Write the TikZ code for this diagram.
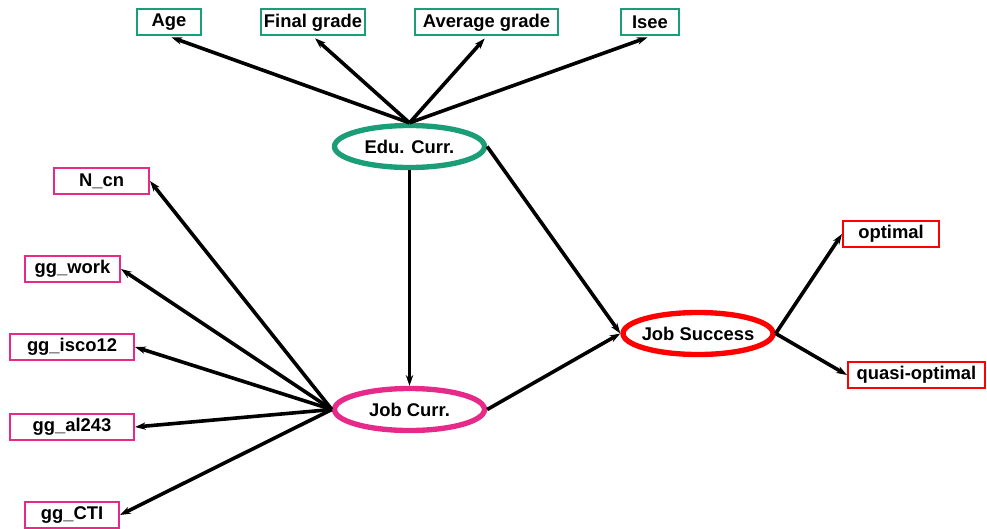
\documentclass[tikz,border=0pt]{standalone}
\usepackage{fontspec}
\setmainfont{Liberation Sans}
\usetikzlibrary{shapes.geometric,arrows.meta}
\definecolor{dgreen}{HTML}{1B9E77}
\definecolor{dpink}{HTML}{E7298A}
\definecolor{dred}{HTML}{FF0000}
\begin{document}
\begin{tikzpicture}[x=0.75pt,y=-0.75pt,
  every node/.style={font=\fontsize{13.8}{16}\selectfont\bfseries},
  latent/.style={ellipse,draw,line width=4pt,inner ysep=0pt,inner xsep=-6pt,
    minimum width=112.5pt,minimum height=31.5pt},
  obsbox/.style={rectangle,draw,line width=1.5pt,inner sep=0pt,
    minimum height=19.5pt},
  link/.style={line width=2.7pt,-{Stealth[length=8pt,width=5.5pt]}}]
\useasboundingbox (0,0) rectangle (987,528);
% latent nodes
\node[latent,draw=dgreen] (edu) at (409.5,146.5) {Edu. Curr.};
\node[latent,draw=dpink]  (job) at (409.5,409.5) {Job Curr.};
\node[latent,draw=dred]   (suc) at (698,333.5) {Job Success};
% education indicators
\node[obsbox,draw=dgreen,minimum width=48pt]     (age)  at (169,22.5) {Age};
\node[obsbox,draw=dgreen,minimum width=78pt]     (fin)  at (313,22.5) {Final grade};
\node[obsbox,draw=dgreen,minimum width=107.25pt] (avg)  at (486.5,22.5) {Average grade};
\node[obsbox,draw=dgreen,minimum width=43.5pt]   (isee) at (650,22.5) {Isee};
% job indicators
\node[obsbox,draw=dpink,minimum width=71.25pt] (ncn)   at (101.5,181) {N\_cn};
\node[obsbox,draw=dpink,minimum width=71.25pt] (work)  at (72.5,269) {gg\_work};
\node[obsbox,draw=dpink,minimum width=93pt]    (isco)  at (72,347) {gg\_isco12};
\node[obsbox,draw=dpink,minimum width=93pt]    (al)    at (72,427) {gg\_al243};
\node[obsbox,draw=dpink,minimum width=70.5pt]  (cti)   at (72,515) {gg\_CTI};
% success indicators
\node[obsbox,draw=dred,minimum width=72pt]    (opt)   at (891,234) {optimal};
\node[obsbox,draw=dred,minimum width=102.75pt] (qopt) at (916.5,375) {quasi-optimal};
% connectors
\foreach \t in {age,fin,avg,isee}
  \draw[link,shorten >=2pt] (edu.north) -- (\t.south);
\foreach \t in {ncn,work,isco,al,cti}
  \draw[link] (job.west) -- (\t.east);
\draw[link] (edu.south) -- (job.north);
\draw[link] (edu.east) -- (suc.west);
\draw[link] (job.east) -- (suc.west);
\draw[link] (suc.east) -- (opt.west);
\draw[link] (suc.east) -- (qopt.west);
\end{tikzpicture}
\end{document}
